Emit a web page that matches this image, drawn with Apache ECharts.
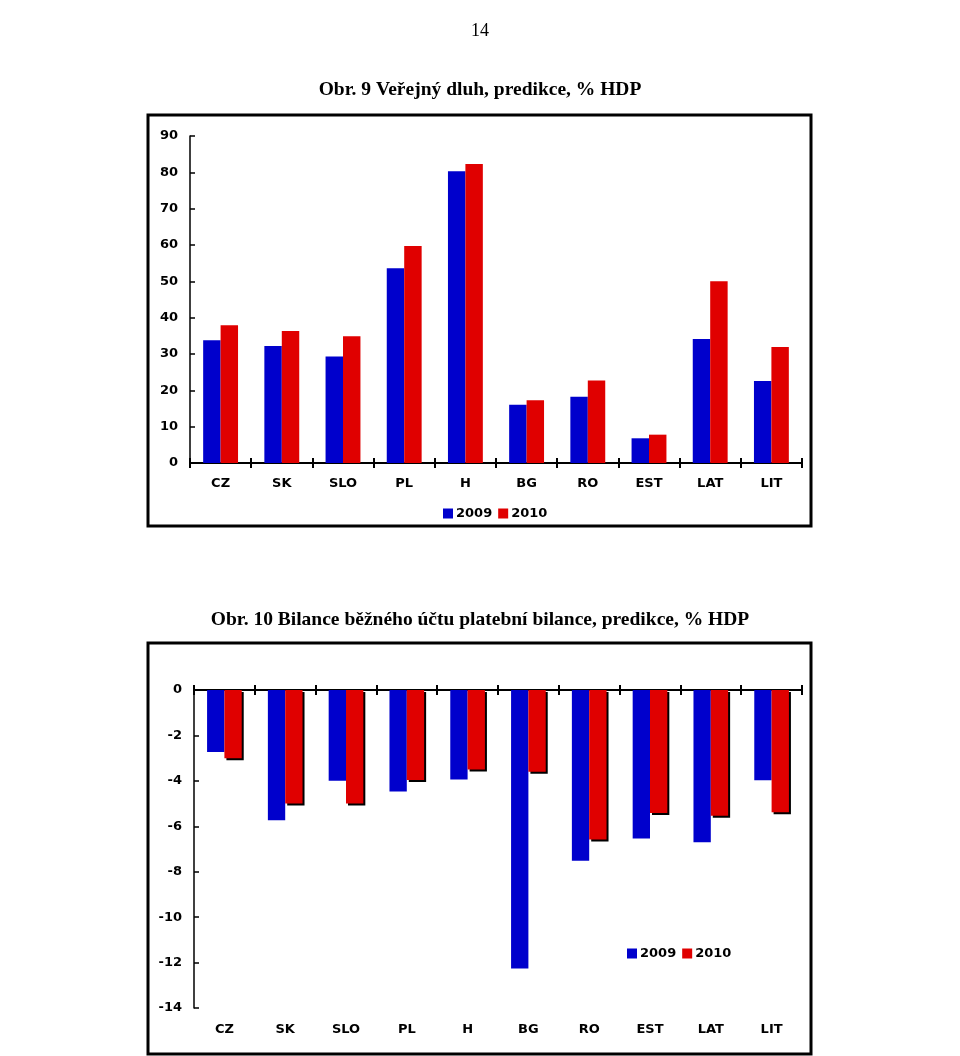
<!DOCTYPE html>
<html>
<head>
<meta charset="utf-8">
<script src="https://cdn.jsdelivr.net/npm/echarts@6/dist/echarts.min.js"></script>
<style>
html,body{margin:0;padding:0;background:#fff;}
#c{width:960px;height:1056px;}
</style>
</head>
<body>
<div id="c"></div>
<script>
const categories = ['CZ','SK','SLO','PL','H','BG','RO','EST','LAT','LIT'];
const debt2009 = [33.8, 32.2, 29.3, 53.6, 80.3, 16.0, 18.2, 6.8, 34.1, 22.6];
const debt2010 = [37.9, 36.3, 34.9, 59.7, 82.3, 17.3, 22.7, 7.8, 50.0, 31.9];
const cab2009 = [-2.73, -5.73, -3.99, -4.47, -3.94, -12.26, -7.52, -6.54, -6.7, -3.97];
const cab2010 = [-3.0, -5.0, -5.0, -3.96, -3.5, -3.6, -6.58, -5.42, -5.54, -5.38];
const seriesNames = ['2009','2010'];
const pageNumber = '14';
const title1 = 'Obr. 9 Veřejný dluh, predikce, % HDP';
const title2 = 'Obr. 10 Bilance běžného účtu platební bilance, predikce, % HDP';

const BLUE = '#0000cc', RED = '#e00000';
const lblFont = {fontFamily:'DejaVu Sans', fontWeight:'bold', fontSize:13, color:'#000'};
const axLine = {show:true, lineStyle:{color:'#000', width:2}};

const chart = echarts.init(document.getElementById('c'), null, {renderer:'canvas'});
chart.setOption({
  animation:false,
  backgroundColor:'#fff',
  graphic:[
    {type:'text', left:'center', top:22, style:{text:pageNumber, font:'18px "Liberation Serif"', fill:'#000'}},
    {type:'text', left:'center', top:80, style:{text:title1, font:'bold 19.5px "Liberation Serif"', fill:'#000'}},
    {type:'text', left:'center', top:610, style:{text:title2, font:'bold 19.5px "Liberation Serif"', fill:'#000'}},
    {type:'rect', shape:{x:148, y:115, width:663, height:411}, style:{fill:null, stroke:'#000', lineWidth:3}},
    {type:'rect', shape:{x:148, y:643, width:663, height:411}, style:{fill:null, stroke:'#000', lineWidth:3}}
  ],
  legend:[
    {data:seriesNames, left:438, top:502, itemWidth:10, itemHeight:10, itemGap:6, icon:'rect',
     textStyle:{fontFamily:'DejaVu Sans', fontWeight:'bold', fontSize:13, color:'#000', padding:[0,0,0,-2]}, selectedMode:false},
    {data:seriesNames, left:622, top:942, itemWidth:10, itemHeight:10, itemGap:6, icon:'rect',
     textStyle:{fontFamily:'DejaVu Sans', fontWeight:'bold', fontSize:13, color:'#000', padding:[0,0,0,-2]}, selectedMode:false}
  ],
  grid:[
    {left:190, right:158, top:136, height:327},
    {left:194, right:158, top:690, height:318}
  ],
  xAxis:[
    {type:'category', gridIndex:0, data:categories, position:'bottom', axisLine:axLine,
     axisTick:{show:true, length:5, inside:false, lineStyle:{color:'#000', width:2}},
     axisLabel:Object.assign({margin:14, interval:0}, lblFont)},
    {type:'category', gridIndex:0, data:categories, position:'bottom', axisLine:{show:false},
     axisTick:{show:true, length:5, inside:true, lineStyle:{color:'#000', width:2}},
     axisLabel:{show:false}},
    {type:'category', gridIndex:1, data:categories, position:'top', axisLine:{show:true, onZero:false, lineStyle:{color:'#000', width:2}},
     axisTick:{show:true, length:5, inside:false, lineStyle:{color:'#000', width:2}},
     axisLabel:{show:false}},
    {type:'category', gridIndex:1, data:categories, position:'top', axisLine:{show:false, onZero:false},
     axisTick:{show:true, length:5, inside:true, lineStyle:{color:'#000', width:2}},
     axisLabel:{show:false}},
    {type:'category', gridIndex:1, data:categories, position:'bottom', axisLine:{show:false, onZero:false},
     axisTick:{show:false}, axisLabel:Object.assign({margin:15, interval:0}, lblFont)}
  ],
  yAxis:[
    {type:'value', gridIndex:0, min:0, max:90, interval:10, axisLine:{show:true, lineStyle:{color:'#000', width:1.5}},
     axisTick:{show:true, inside:true, length:5, lineStyle:{color:'#000', width:1.5}},
     axisLabel:Object.assign({margin:12}, lblFont), splitLine:{show:false}},
    {type:'value', gridIndex:1, min:-14, max:0, interval:2, axisLine:{show:true, onZero:false, lineStyle:{color:'#000', width:1.5}},
     axisTick:{show:true, inside:true, length:5, lineStyle:{color:'#000', width:1.5}},
     axisLabel:Object.assign({margin:12}, lblFont), splitLine:{show:false}}
  ],
  series:[
    {name:seriesNames[0], type:'bar', xAxisIndex:0, yAxisIndex:0, data:debt2009, itemStyle:{color:BLUE},
     barGap:'0%', barCategoryGap:'43%'},
    {name:seriesNames[1], type:'bar', xAxisIndex:0, yAxisIndex:0, data:debt2010, itemStyle:{color:RED},
     barGap:'0%', barCategoryGap:'43%'},
    {name:seriesNames[0], type:'bar', xAxisIndex:2, yAxisIndex:1, data:cab2009, itemStyle:{color:BLUE},
     barGap:'0%', barCategoryGap:'43%'},
    {name:seriesNames[1], type:'bar', xAxisIndex:2, yAxisIndex:1, data:cab2010,
     itemStyle:{color:RED, shadowColor:'#000', shadowOffsetX:2, shadowOffsetY:2, shadowBlur:0},
     barGap:'0%', barCategoryGap:'43%'}
  ]
});
</script>
</body>
</html>
